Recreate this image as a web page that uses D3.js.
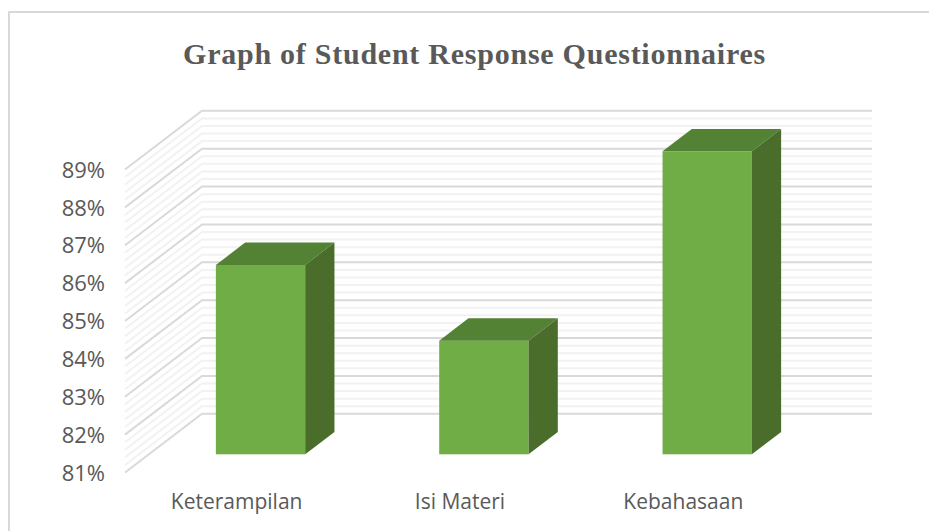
<!DOCTYPE html>
<html>
<head>
<meta charset="utf-8">
<script src="https://cdn.jsdelivr.net/npm/d3@7"></script>
<style>
  html, body { margin: 0; padding: 0; background: #fff; }
  svg { display: block; }
</style>
</head>
<body>
<div id="chart"></div>
<script>
const categories = ["Keterampilan", "Isi Materi", "Kebahasaan"];
const values = [86, 84, 89];
const tickValues = [81, 82, 83, 84, 85, 86, 87, 88, 89];
const chartTitle = "Graph of Student Response Questionnaires";

const width = 929, height = 531;

// front plane of the 3d box, the back wall is shifted by depth
const plot = { left: 125, right: 795, top: 169.5, bottom: 472.5 };
const depth = { x: 77, y: 58.7 };
// bars sit between these two fractions of the floor depth
const barNear = 0.31, barFar = 0.69;

const svg = d3.select("#chart").append("svg")
  .attr("width", width)
  .attr("height", height);

// outer frame
svg.append("path")
  .attr("d", "M9,531V12H929")
  .attr("fill", "none")
  .attr("stroke", "#d9d9d9")
  .attr("stroke-width", 2);

svg.append("text")
  .attr("x", 474.5)
  .attr("y", 64)
  .attr("text-anchor", "middle")
  .attr("font-family", "'Liberation Serif', serif")
  .attr("font-weight", "bold")
  .attr("font-size", 30)
  .attr("letter-spacing", 0.75)
  .attr("fill", "#595959")
  .text(chartTitle);

const x = d3.scaleBand()
  .domain(categories)
  .range([plot.left, plot.right])
  .paddingInner(0.6)
  .paddingOuter(0.3);

const y = d3.scaleLinear()
  .domain([81, 89])
  .range([plot.bottom, plot.top]);

// gridlines: major on each percent, four minor in between
const gridValues = d3.range(0, 41).map(i => 81 + i * 0.2);

const grid = svg.append("g").attr("fill", "none");
grid.selectAll("path")
  .data(gridValues.filter(d => Math.abs(d - Math.round(d)) > 0.01).concat(tickValues))
  .join("path")
  .attr("d", d => {
    const py = y(d);
    return `M${plot.left},${py}L${plot.left + depth.x},${py - depth.y}H${plot.right + depth.x}`;
  })
  .attr("stroke", d => Number.isInteger(d) ? "#d9d9d9" : "#f2f2f2")
  .attr("stroke-width", 2);

// y axis labels
svg.append("g")
  .selectAll("text")
  .data(tickValues)
  .join("text")
  .attr("x", 105)
  .attr("y", d => y(d) + 0.5)
  .attr("dy", "0.35em")
  .attr("text-anchor", "end")
  .attr("font-family", "'Open Sans', sans-serif")
  .attr("font-size", 22)
  .attr("fill", "#595959")
  .text(d => d + "%");

// category labels
svg.append("g")
  .selectAll("text")
  .data(categories)
  .join("text")
  .attr("x", d => x(d) + x.bandwidth() / 2)
  .attr("y", 502)
  .attr("dy", "0.35em")
  .attr("text-anchor", "middle")
  .attr("font-family", "'Open Sans', sans-serif")
  .attr("font-size", 21)
  .attr("fill", "#595959")
  .text(d => d);

// bars
const nearX = barNear * depth.x, nearY = barNear * depth.y;
const farX = barFar * depth.x, farY = barFar * depth.y;
const barDx = farX - nearX, barDy = farY - nearY;

const bars = svg.append("g")
  .selectAll("g")
  .data(categories.map((c, i) => ({ category: c, value: values[i] })))
  .join("g")
  .attr("transform", d => `translate(${x(d.category) + nearX},${y(d.value) - nearY})`);

const barHeight = d => y(81) - y(d.value);

bars.append("rect")
  .attr("width", x.bandwidth())
  .attr("height", barHeight)
  .attr("fill", "#70ad47");

bars.append("path")
  .attr("d", `M0,0l${barDx},${-barDy}h${x.bandwidth()}l${-barDx},${barDy}z`)
  .attr("fill", "#548235");

bars.append("path")
  .attr("d", d => `M${x.bandwidth()},0l${barDx},${-barDy}v${barHeight(d)}l${-barDx},${barDy}z`)
  .attr("fill", "#4a6d2b");
</script>
</body>
</html>
